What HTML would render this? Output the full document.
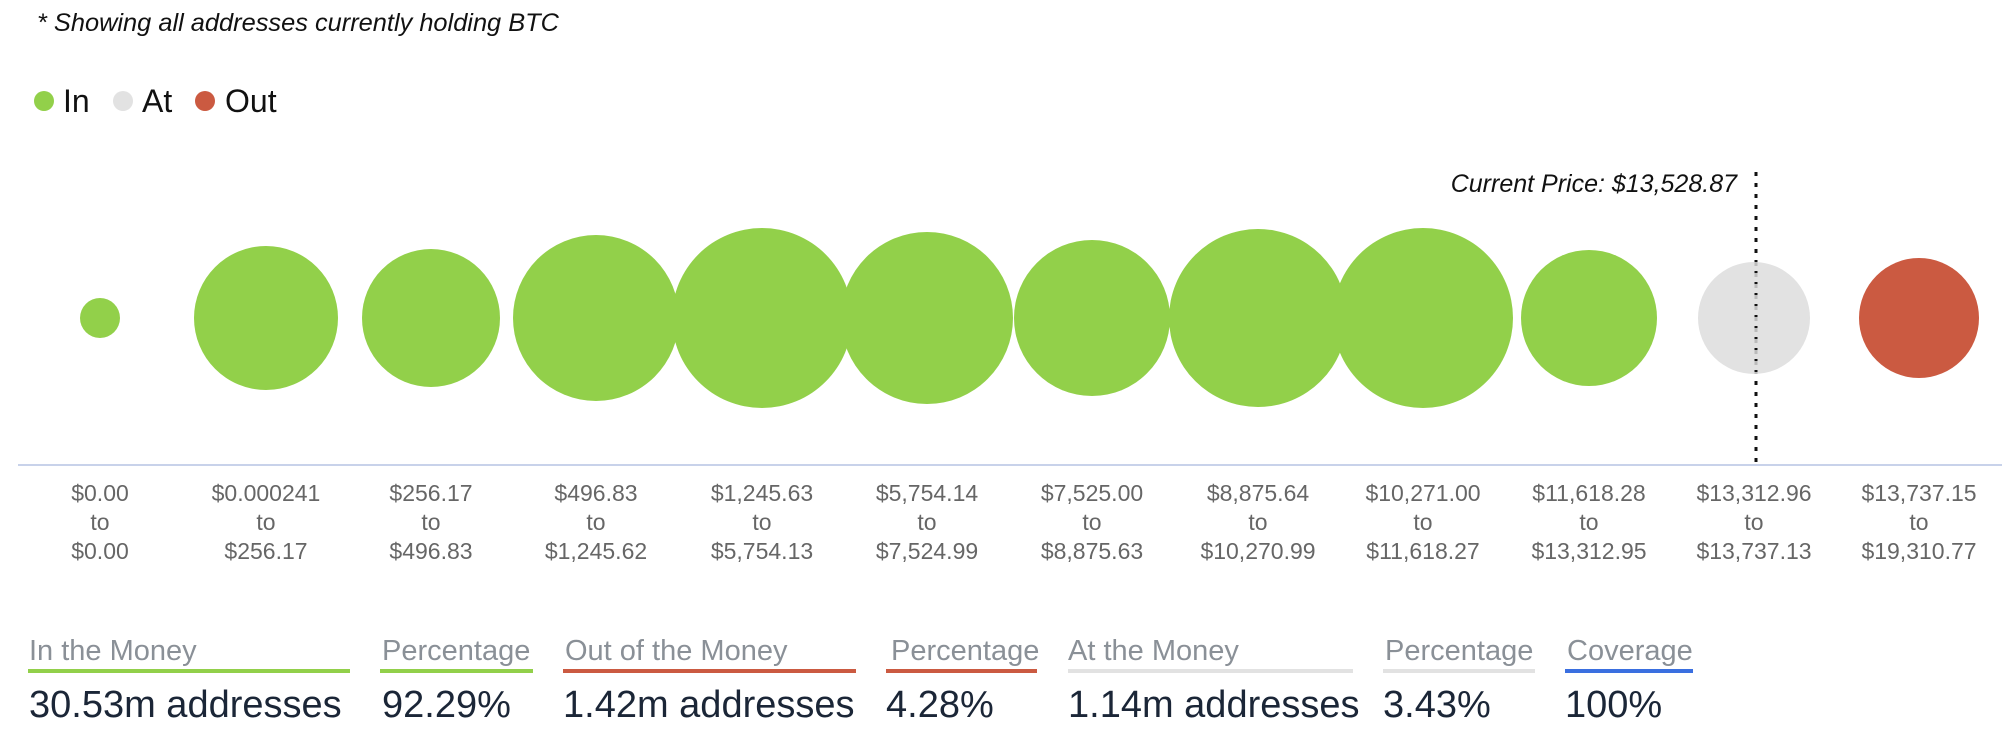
<!DOCTYPE html>
<html><head><meta charset="utf-8"><style>
html,body{margin:0;padding:0;background:#fff;}
body{width:2012px;height:740px;overflow:hidden;font-family:"Liberation Sans",sans-serif;}
</style></head><body>
<svg width="2012" height="740" xmlns="http://www.w3.org/2000/svg" font-family="Liberation Sans, sans-serif">
<text x="37" y="31" font-size="25" font-style="italic" fill="#111" textLength="522" lengthAdjust="spacingAndGlyphs">* Showing all addresses currently holding BTC</text>
<circle cx="44" cy="101" r="10" fill="#92d04a"/>
<text x="63" y="112" font-size="32" fill="#111">In</text>
<circle cx="123" cy="101" r="10" fill="#e2e2e2"/>
<text x="142" y="112" font-size="32" fill="#111">At</text>
<circle cx="205" cy="101" r="10" fill="#cb5a41"/>
<text x="225" y="112" font-size="32" fill="#111">Out</text>

<line x1="18" y1="465" x2="2002" y2="465" stroke="#c8d2ea" stroke-width="2"/>
<g fill="#92d04a">
<circle cx="100" cy="318" r="20"/>
<circle cx="266" cy="318" r="72"/>
<circle cx="431" cy="318" r="69"/>
<circle cx="596" cy="318" r="83"/>
<circle cx="762" cy="318" r="90"/>
<circle cx="927" cy="318" r="86"/>
<circle cx="1092" cy="318" r="78"/>
<circle cx="1258" cy="318" r="89"/>
<circle cx="1423" cy="318" r="90"/>
<circle cx="1589" cy="318" r="68"/>
</g>
<circle cx="1754" cy="318" r="56" fill="#e2e2e2"/>
<circle cx="1919" cy="318" r="60" fill="#cb5a41"/>
<line x1="1756" y1="172" x2="1756" y2="465" stroke="#111" stroke-width="3" stroke-dasharray="4,7"/>
<line x1="1756" y1="262" x2="1756" y2="374" stroke="#bbb" stroke-width="3" stroke-dasharray="4,7"/>
<text x="1737" y="192" font-size="25" font-style="italic" fill="#111" text-anchor="end">Current Price: $13,528.87</text>

<g font-size="23" fill="#666" text-anchor="middle">
<text x="100" y="501">$0.00</text><text x="100" y="530">to</text><text x="100" y="559">$0.00</text>
<text x="266" y="501">$0.000241</text><text x="266" y="530">to</text><text x="266" y="559">$256.17</text>
<text x="431" y="501">$256.17</text><text x="431" y="530">to</text><text x="431" y="559">$496.83</text>
<text x="596" y="501">$496.83</text><text x="596" y="530">to</text><text x="596" y="559">$1,245.62</text>
<text x="762" y="501">$1,245.63</text><text x="762" y="530">to</text><text x="762" y="559">$5,754.13</text>
<text x="927" y="501">$5,754.14</text><text x="927" y="530">to</text><text x="927" y="559">$7,524.99</text>
<text x="1092" y="501">$7,525.00</text><text x="1092" y="530">to</text><text x="1092" y="559">$8,875.63</text>
<text x="1258" y="501">$8,875.64</text><text x="1258" y="530">to</text><text x="1258" y="559">$10,270.99</text>
<text x="1423" y="501">$10,271.00</text><text x="1423" y="530">to</text><text x="1423" y="559">$11,618.27</text>
<text x="1589" y="501">$11,618.28</text><text x="1589" y="530">to</text><text x="1589" y="559">$13,312.95</text>
<text x="1754" y="501">$13,312.96</text><text x="1754" y="530">to</text><text x="1754" y="559">$13,737.13</text>
<text x="1919" y="501">$13,737.15</text><text x="1919" y="530">to</text><text x="1919" y="559">$19,310.77</text>
</g>

<g font-size="29" fill="#8a9097">
<text x="29" y="660">In the Money</text>
<text x="382" y="660">Percentage</text>
<text x="565" y="660">Out of the Money</text>
<text x="891" y="660">Percentage</text>
<text x="1068" y="660">At the Money</text>
<text x="1385" y="660">Percentage</text>
<text x="1567" y="660">Coverage</text>
</g>
<rect x="28" y="669" width="322" height="4" fill="#92d04a"/>
<rect x="380" y="669" width="153" height="4" fill="#92d04a"/>
<rect x="563" y="669" width="293" height="4" fill="#cb5a41"/>
<rect x="886" y="669" width="151" height="4" fill="#cb5a41"/>
<rect x="1068" y="669" width="285" height="4" fill="#e2e2e2"/>
<rect x="1383" y="669" width="152" height="4" fill="#e2e2e2"/>
<rect x="1565" y="669" width="128" height="4" fill="#3a6fe0"/>
<g font-size="38" fill="#1b2637">
<text x="29" y="717">30.53m addresses</text>
<text x="382" y="717">92.29%</text>
<text x="563" y="717">1.42m addresses</text>
<text x="886" y="717">4.28%</text>
<text x="1068" y="717">1.14m addresses</text>
<text x="1383" y="717">3.43%</text>
<text x="1565" y="717">100%</text>
</g>
</svg>
</body></html>
